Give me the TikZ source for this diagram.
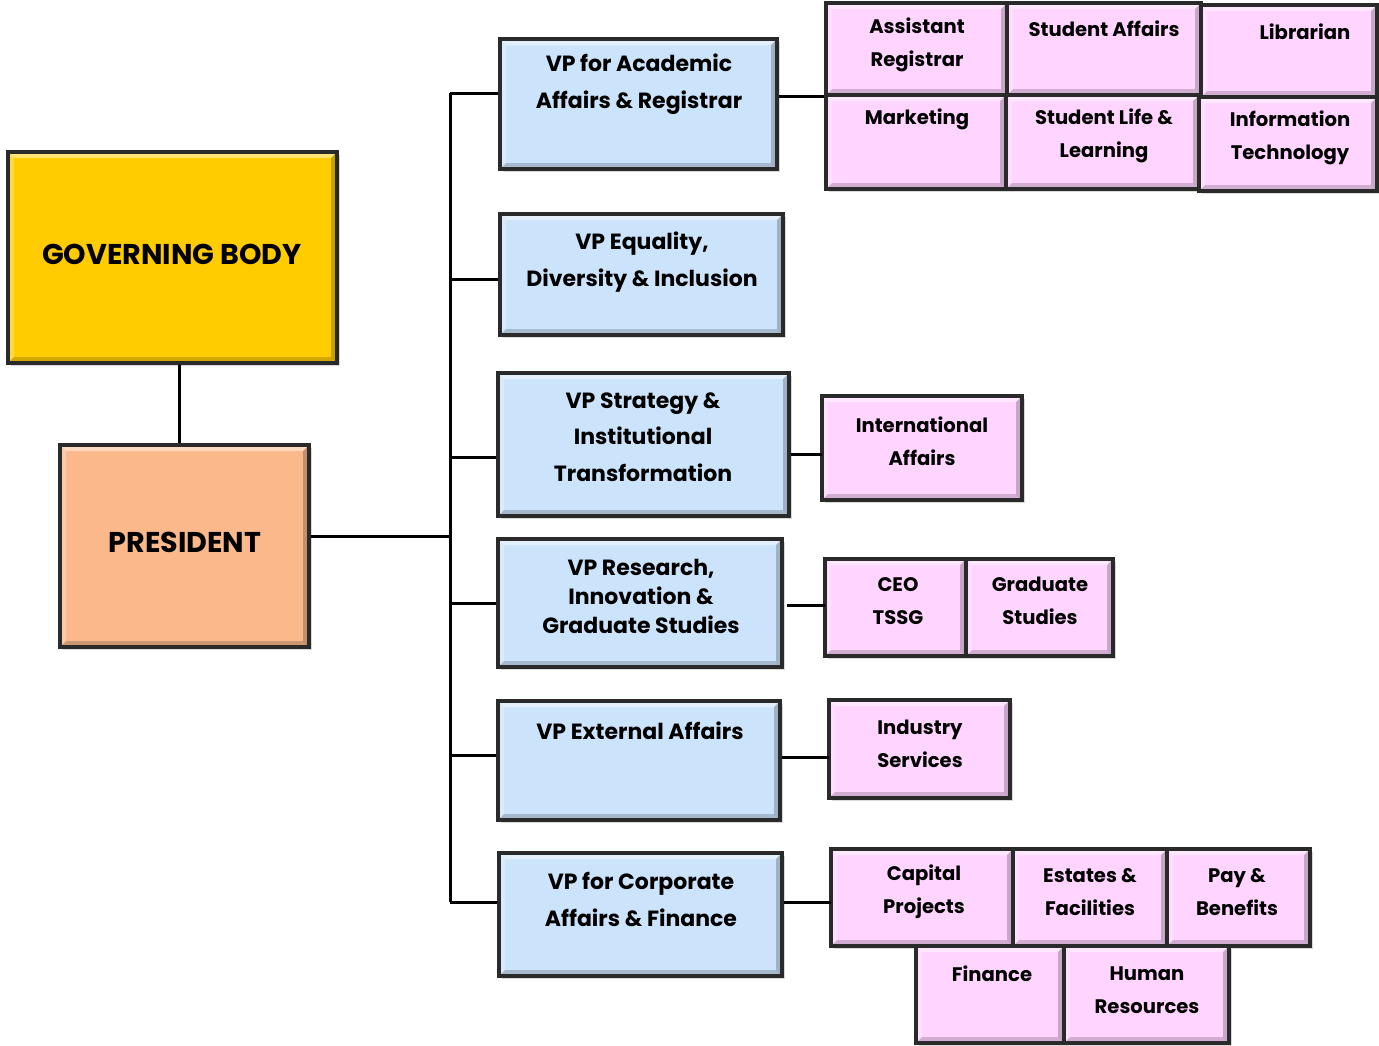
\documentclass[tikz,border=0pt]{standalone}
\usepackage{fontspec}
\setmainfont{Poppins}
\usetikzlibrary{fit,shadows}
\definecolor{govgold}{HTML}{FFCC00}
\definecolor{prespeach}{HTML}{FBB98B}
\definecolor{vpblue}{HTML}{CCE4FB}
\definecolor{unitpink}{HTML}{FFD5FF}
\definecolor{boxline}{HTML}{2A2A2A}

\tikzset{
  bevel/.style={path picture={
    \fill[white,opacity=0.45] (path picture bounding box.north west) -- (path picture bounding box.north east)
      -- ([shift={(-3pt,-3pt)}]path picture bounding box.north east) -- ([shift={(3pt,-3pt)}]path picture bounding box.north west) -- cycle;
    \fill[white,opacity=0.25] (path picture bounding box.north west) -- ([shift={(3pt,-3pt)}]path picture bounding box.north west)
      -- ([shift={(3pt,3pt)}]path picture bounding box.south west) -- (path picture bounding box.south west) -- cycle;
    \fill[black,opacity=0.18] (path picture bounding box.south west) -- (path picture bounding box.south east)
      -- ([shift={(-3pt,3pt)}]path picture bounding box.south east) -- ([shift={(3pt,3pt)}]path picture bounding box.south west) -- cycle;
    \fill[black,opacity=0.22] (path picture bounding box.north east) -- ([shift={(-3pt,-3pt)}]path picture bounding box.north east)
      -- ([shift={(-3pt,3pt)}]path picture bounding box.south east) -- (path picture bounding box.south east) -- cycle;
  }},
  orgbox/.style={draw=boxline, line width=1.6pt, inner sep=0pt, bevel,
    drop shadow={shadow xshift=1.5pt, shadow yshift=-1.5pt, opacity=0.3}},
  govbox/.style={orgbox, fill=govgold},
  presbox/.style={orgbox, fill=prespeach},
  vpbox/.style={orgbox, fill=vpblue},
  unitbox/.style={orgbox, fill=unitpink},
  bigtext/.style={font=\fontsize{14.3}{17}\selectfont\bfseries},
  vptext/.style={align=center, font=\fontsize{11}{18.5}\selectfont\bfseries},
  unittext/.style={align=center, font=\fontsize{9.8}{16.5}\selectfont\bfseries},
  conn/.style={line width=1.5pt, black}
}

\begin{document}
\begin{tikzpicture}[x=0.5pt, y=-0.5pt]
  \useasboundingbox (0,0) rectangle (1379,1045);

  % top of the tree
  \node[govbox, fit={(8,152) (337,363)}] (gov) {};
  \node[bigtext] (govtxt) at (172,254) {GOVERNING BODY};
  \node[presbox, fit={(60,445) (309,647)}] (pres) {};
  \node[bigtext] (prestxt) at (185,542) {PRESIDENT};

  % vice presidents
  \node[vpbox, fit={(500,39) (777,169)}] (vpacad) {};
  \node[vptext] (vpacadtxt) at (639,84) {VP for Academic\\Affairs \& Registrar};
  \node[vpbox, fit={(500,214) (783,335)}] (vpedi) {};
  \node[vptext] (vpeditxt) at (642,262) {VP Equality,\\Diversity \& Inclusion};
  \node[vpbox, fit={(498,373) (789,516)}] (vpstrat) {};
  \node[vptext, font=\fontsize{11}{18.2}\selectfont\bfseries] (vpstrattxt) at (643,437) {VP Strategy \&\\Institutional\\Transformation};
  \node[vpbox, fit={(498,539) (782,667)}] (vpres) {};
  \node[vptext, font=\fontsize{11}{14.5}\selectfont\bfseries] (vprestxt) at (641,596) {VP Research,\\Innovation \&\\Graduate Studies};
  \node[vpbox, fit={(498,701) (780,820)}] (vpext) {};
  \node[vptext] (vpexttxt) at (640,731) {VP External Affairs};
  \node[vpbox, fit={(499,853) (782,976)}] (vpcorp) {};
  \node[vptext] (vpcorptxt) at (641,899) {VP for Corporate\\Affairs \& Finance};

  % units under academic affairs
  \node[unitbox, fit={(826,3) (1007,95)}] (asreg) {};
  \node[unittext] (asregtxt) at (917,45) {Assistant\\Registrar};
  \node[unitbox, fit={(1007,3) (1201,95)}] (stuaff) {};
  \node[unittext] (stuafftxt) at (1104,29) {Student Affairs};
  \node[unitbox, fit={(1201,5) (1377,97)}] (lib) {};
  \node[unittext] (libtxt) at (1305,32) {Librarian};
  \node[unitbox, fit={(826,95) (1006,189)}] (mkt) {};
  \node[unittext] (mkttxt) at (917,119) {Marketing};
  \node[unitbox, fit={(1006,95) (1199,189)}] (stulife) {};
  \node[unittext] (stulifetxt) at (1104,136) {Student Life \&\\Learning};
  \node[unitbox, fit={(1199,97) (1377,191)}] (infotech) {};
  \node[unittext] (infotechtxt) at (1290,138) {Information\\Technology};

  % units under the other vps
  \node[unitbox, fit={(822,396) (1022,500)}] (intl) {};
  \node[unittext] (intltxt) at (922,441) {International\\Affairs};
  \node[unitbox, fit={(825,559) (966,656)}] (ceo) {};
  \node[unittext] (ceotxt) at (898,601) {CEO\\TSSG};
  \node[unitbox, fit={(966,559) (1113,656)}] (grad) {};
  \node[unittext] (gradtxt) at (1040,601) {Graduate\\Studies};
  \node[unitbox, fit={(829,700) (1010,798)}] (industry) {};
  \node[unittext] (industrytxt) at (920,744) {Industry\\Services};

  % units under corporate affairs
  \node[unitbox, fit={(831,849) (1013,946)}] (capproj) {};
  \node[unittext] (capprojtxt) at (924,892) {Capital\\Projects};
  \node[unitbox, fit={(1013,849) (1167,946)}] (estates) {};
  \node[unittext] (estatestxt) at (1090,892) {Estates \&\\Facilities};
  \node[unitbox, fit={(1167,849) (1310,946)}] (pay) {};
  \node[unittext] (paytxt) at (1237,892) {Pay \&\\Benefits};
  \node[unitbox, fit={(916,946) (1064,1043)}] (finance) {};
  \node[unittext] (financetxt) at (992,974) {Finance};
  \node[unitbox, fit={(1064,946) (1229,1043)}] (hr) {};
  \node[unittext] (hrtxt) at (1147,990) {Human\\Resources};

  % joints of the connectors
  \coordinate (j1) at (450,93);
  \coordinate (j2) at (450,279);
  \coordinate (j3) at (450,457);
  \coordinate (j4) at (450,603);
  \coordinate (j5) at (450,755);
  \coordinate (j6) at (450,902);
  \coordinate (pj) at (450,536);
  \coordinate (k3) at (822,454);
  \coordinate (k4) at (825,605);
  \coordinate (k5) at (829,757);
  \coordinate (k6) at (831,902);

  % connectors
  \draw[conn] ([xshift=3.25pt]gov.south) -- ([xshift=3.25pt]gov.south |- pres.north);
  \draw[conn] (pres.east |- pj) -- (pj);
  \draw[conn] (j1) -- (j6);
  \draw[conn] (j1) -- (vpacad.west |- j1);
  \draw[conn] (j2) -- (vpedi.west |- j2);
  \draw[conn] (j3) -- (vpstrat.west |- j3);
  \draw[conn] (j4) -- (vpres.west |- j4);
  \draw[conn] (j5) -- (vpext.west |- j5);
  \draw[conn] (j6) -- (vpcorp.west |- j6);
  \draw[conn] (vpacad.east |- asreg.south west) -- (asreg.south west);
  \draw[conn] (vpstrat.east |- k3) -- (k3);
  \draw[conn] ([xshift=1.5pt]vpres.east |- k4) -- (k4);
  \draw[conn] (vpext.east |- k5) -- (k5);
  \draw[conn] (vpcorp.east |- k6) -- (k6);
\end{tikzpicture}
\end{document}
